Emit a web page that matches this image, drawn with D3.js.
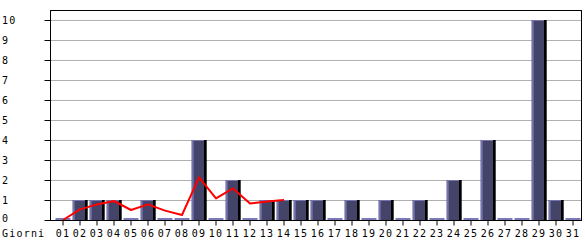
<!DOCTYPE html>
<html>
<head>
<meta charset="utf-8">
<script src="https://cdn.jsdelivr.net/npm/d3@7"></script>
<style>
  html, body { margin: 0; padding: 0; background: #fff; }
  svg { display: block; }
  text { font-family: "DejaVu Sans Mono", monospace; font-size: 10px; letter-spacing: 1.2px; fill: #000; }
</style>
</head>
<body>
<svg id="chart" width="585" height="240"></svg>
<script>
const days = ["01","02","03","04","05","06","07","08","09","10","11","12","13","14","15","16","17","18","19","20","21","22","23","24","25","26","27","28","29","30","31"];
const visits = [0,1,1,1,0,1,0,0,4,0,2,0,1,1,1,1,0,1,0,1,0,1,0,2,0,4,0,0,10,1,0];
const trendDays = ["01","02","03","04","05","06","07","08","09","10","11","12","13","14"];
const trend = [0,0.53,0.78,0.95,0.5,0.78,0.47,0.25,2.13,1.08,1.58,0.83,0.92,1.0];
const yTicks = [0,1,2,3,4,5,6,7,8,9,10];
const xTitle = "Giorni";

(function () {
const svg = d3.select("#chart");
const pLeft = 50, pRight = 581, pTop = 10, pBottom = 220;

const x = d3.scaleBand().domain(days).range([54.5, 581.5]).padding(0);
const y = d3.scaleLinear().domain([0, 10.5]).range([pBottom, pTop]);
const cx = d => x(d) + x.bandwidth() / 2;

// grid lines
svg.append("g").selectAll("line").data(yTicks.filter(v => v > 0)).join("line")
  .attr("x1", pLeft).attr("x2", pRight)
  .attr("y1", d => y(d) + 0.5).attr("y2", d => y(d) + 0.5)
  .attr("stroke", "#b0b0b0").attr("stroke-width", 1);

// bars
const bars = svg.append("g");
days.forEach((d, i) => {
  const v = visits[i];
  const c = cx(d);
  if (v === 0) {
    bars.append("rect").attr("x", c - 7.5).attr("y", pBottom - 2).attr("width", 15).attr("height", 2).attr("fill", "#7a7ab8");
    return;
  }
  const t = y(v);
  bars.append("rect").attr("x", c + 5).attr("y", t).attr("width", 2.7).attr("height", pBottom - t).attr("fill", "#000");
  bars.append("rect").attr("x", c - 7.3).attr("y", t).attr("width", 12.3).attr("height", pBottom - t).attr("fill", "#444468");
  bars.append("rect").attr("x", c - 7.3).attr("y", t).attr("width", 2).attr("height", pBottom - t).attr("fill", "#7474b0");
  bars.append("rect").attr("x", c - 7.3).attr("y", t).attr("width", 12.3).attr("height", 1).attr("fill", "#7474b0");
});

// trend line
const line = d3.line().x(d => cx(d[0])).y(d => y(d[1]));
svg.append("path").datum(trendDays.map((d, i) => [d, trend[i]]))
  .attr("d", line).attr("fill", "none").attr("stroke", "#ff0000").attr("stroke-width", 2).attr("stroke-linejoin", "round");

// frame
svg.append("rect").attr("x", pLeft + 0.5).attr("y", pTop + 0.5).attr("width", pRight - pLeft).attr("height", pBottom - pTop)
  .attr("fill", "none").attr("stroke", "#000").attr("stroke-width", 1);

// y axis ticks and labels
const yAxis = d3.axisLeft(y).tickValues(yTicks).tickSize(6).tickFormat(d3.format("d"));
const gy = svg.append("g").attr("transform", `translate(${pLeft + 0.5},0)`).call(yAxis);
gy.select(".domain").remove();
gy.selectAll(".tick line").attr("stroke", "#000");
gy.selectAll(".tick text").attr("x", 2 - pLeft - 0.5).attr("text-anchor", "start").attr("dy", "0.35em")
  .attr("font-family", null).attr("font-size", null).style("fill", "#000");
gy.selectAll(".tick").filter(d => d === 0).select("text").attr("dy", "0.1em");

// x axis ticks and labels
const xAxis = d3.axisBottom(x).tickSize(5).tickPadding(6);
const gx = svg.append("g").attr("transform", `translate(0,${pBottom + 0.5})`).call(xAxis);
gx.select(".domain").remove();
gx.selectAll(".tick line").attr("stroke", "#000");
gx.selectAll(".tick text").attr("y", 16).attr("dy", null).attr("font-family", null).attr("font-size", null).style("fill", "#000");

svg.append("text").attr("x", 2).attr("y", 236.5).text(xTitle);
})();
</script>
</body>
</html>
